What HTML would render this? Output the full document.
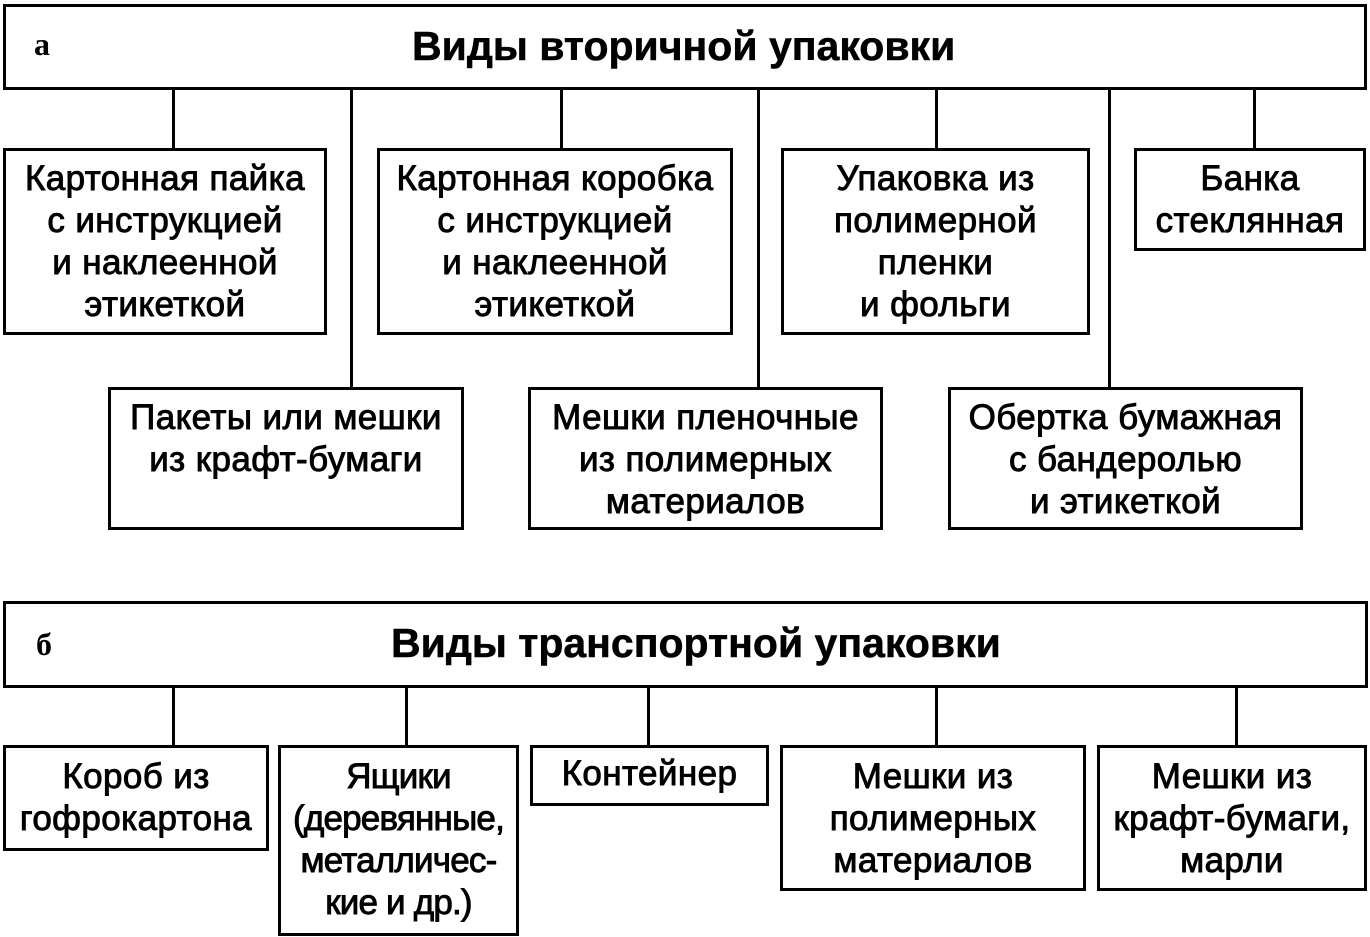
<!DOCTYPE html>
<html><head><meta charset="utf-8"><style>
body{margin:0;width:1370px;height:937px;background:#fff;position:relative;overflow:hidden;font-family:"Liberation Sans",sans-serif;color:#000}
.b{position:absolute;border:3px solid #000;box-sizing:border-box;text-align:center;font-size:35px;letter-spacing:0.4px;line-height:42px;padding-top:7px;-webkit-text-stroke:0.9px #000;white-space:nowrap}
.v{position:absolute;width:3px;background:#000}
.t{position:absolute;font-weight:bold;font-size:41px;line-height:40px;white-space:nowrap;-webkit-text-stroke:0.5px #000}
.l{position:absolute;font-family:"Liberation Serif",serif;font-weight:bold;font-size:32px}
</style></head><body>
<div class="b" style="left:3px;top:4px;width:1364px;height:86px"></div>
<div class="l" style="left:34px;top:26px">а</div>
<div class="t" style="left:412px;top:26px">Виды вторичной упаковки</div>
<div class="v" style="left:172px;top:88px;height:62px"></div>
<div class="v" style="left:350px;top:88px;height:301px"></div>
<div class="v" style="left:560px;top:88px;height:62px"></div>
<div class="v" style="left:757px;top:88px;height:301px"></div>
<div class="v" style="left:935px;top:88px;height:62px"></div>
<div class="v" style="left:1108px;top:88px;height:301px"></div>
<div class="v" style="left:1253px;top:88px;height:62px"></div>
<div class="b" style="left:3px;top:148px;width:324px;height:187px">Картонная пайка<br>с инструкцией<br>и наклеенной<br>этикеткой</div>
<div class="b" style="left:377px;top:148px;width:356px;height:187px">Картонная коробка<br>с инструкцией<br>и наклеенной<br>этикеткой</div>
<div class="b" style="left:781px;top:148px;width:309px;height:187px">Упаковка из<br>полимерной<br>пленки<br>и фольги</div>
<div class="b" style="left:1134px;top:148px;width:232px;height:103px">Банка<br>стеклянная</div>
<div class="b" style="left:108px;top:387px;width:356px;height:143px">Пакеты или мешки<br>из крафт-бумаги</div>
<div class="b" style="left:528px;top:387px;width:355px;height:143px">Мешки пленочные<br>из полимерных<br>материалов</div>
<div class="b" style="left:948px;top:387px;width:355px;height:143px">Обертка бумажная<br>с бандеролью<br>и этикеткой</div>

<div class="b" style="left:3px;top:601px;width:1365px;height:87px"></div>
<div class="l" style="left:36px;top:626px">б</div>
<div class="t" style="left:391px;top:623px">Виды транспортной упаковки</div>
<div class="v" style="left:172px;top:686px;height:61px"></div>
<div class="v" style="left:405px;top:686px;height:61px"></div>
<div class="v" style="left:647px;top:686px;height:61px"></div>
<div class="v" style="left:935px;top:686px;height:61px"></div>
<div class="v" style="left:1235px;top:686px;height:61px"></div>
<div class="b" style="left:3px;top:745px;width:266px;height:106px;padding-top:8px">Короб из<br>гофрокартона</div>
<div class="b" style="left:278px;top:745px;width:241px;height:191px;padding-top:8px;letter-spacing:-0.8px">Ящики<br>(деревянные,<br>металличес-<br>кие и др.)</div>
<div class="b" style="left:530px;top:745px;width:239px;height:61px;padding-top:5px">Контейнер</div>
<div class="b" style="left:780px;top:745px;width:306px;height:146px;padding-top:8px">Мешки из<br>полимерных<br>материалов</div>
<div class="b" style="left:1097px;top:745px;width:270px;height:146px;padding-top:8px">Мешки из<br>крафт-бумаги,<br>марли</div>
</body></html>
